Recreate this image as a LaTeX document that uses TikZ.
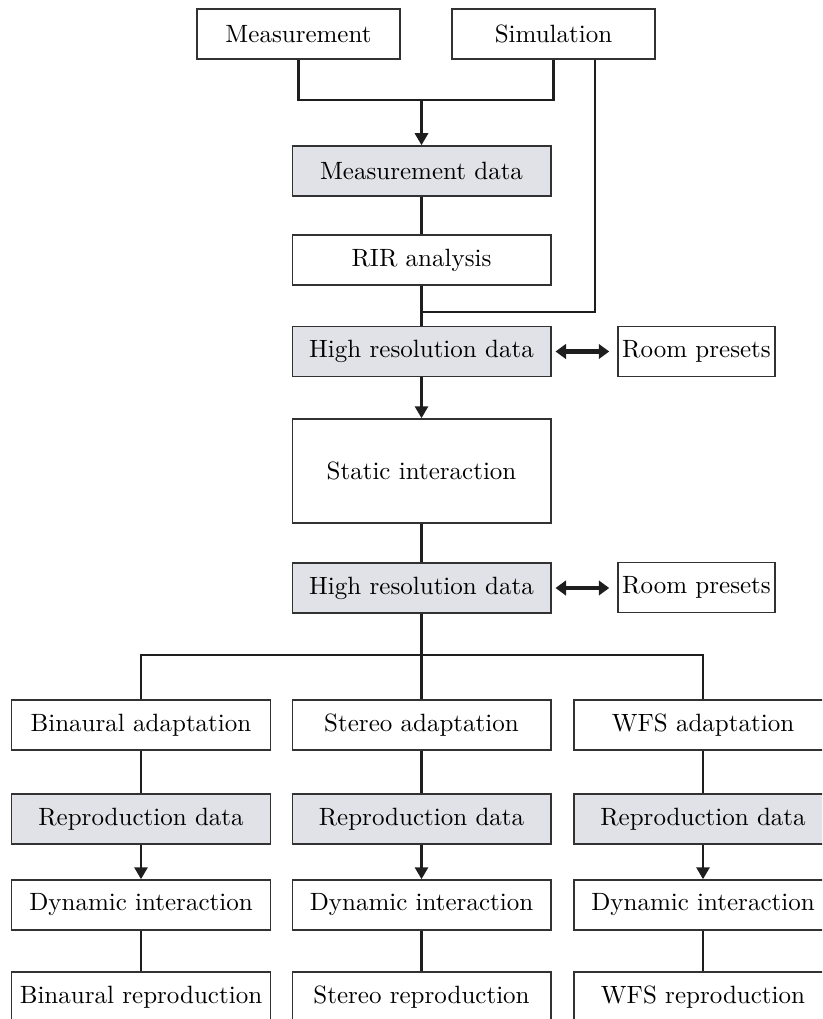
\documentclass[tikz,border=0pt]{standalone}
\usetikzlibrary{arrows.meta}
\definecolor{boxgray}{RGB}{225,226,231}
\definecolor{edge}{RGB}{50,50,50}
\definecolor{wire}{RGB}{30,30,30}
\begin{document}
\begin{tikzpicture}[x=0.4pt,y=-0.4pt,
  box/.style={draw=edge,line width=0.6pt,inner sep=0pt,minimum width=103.4pt,minimum height=20pt,font=\fontsize{10}{12}\selectfont},
  databox/.style={box,fill=boxgray},
  wireline/.style={draw=wire,line width=1.15pt},
  arr/.style={wireline,-{Triangle[length=4.8pt,width=5.2pt]}},
  dbl/.style={draw=wire,line width=1.7pt,{Triangle[length=4.2pt,width=5.8pt]}-{Triangle[length=4.2pt,width=5.8pt]}}]
\useasboundingbox (0,0) rectangle (822,1019);
\clip (0,0) rectangle (822,1019);
% top
\node[box,minimum width=81.2pt] (meas) at (298.5,34) {Measurement};
\node[box,minimum width=81.2pt] (sim) at (553.5,34) {Simulation};
\node[databox] (mdata) at (421.5,171) {Measurement data};
\node[box] (rir) at (421.5,260) {RIR analysis};
\node[databox] (hr1) at (421.5,351.5) {High resolution data};
\node[box,minimum width=62.8pt] (rp1) at (696.5,351.5) {Room presets};
\node[box,minimum height=41.6pt] (static) at (421.5,471) {Static interaction};
\node[databox] (hr2) at (421.5,588) {High resolution data};
\node[box,minimum width=62.8pt] (rp2) at (696.5,587.5) {Room presets};
% columns
\node[box] (ad1) at (141,725) {Binaural adaptation};
\node[box] (ad2) at (421.5,725) {Stereo adaptation};
\node[box] (ad3) at (703,725) {WFS adaptation};
\node[databox] (rd1) at (141,819) {Reproduction data};
\node[databox] (rd2) at (421.5,819) {Reproduction data};
\node[databox] (rd3) at (703,819) {Reproduction data};
\node[box] (dy1) at (141,905) {Dynamic interaction};
\node[box] (dy2) at (421.5,905) {Dynamic interaction};
\node[box] (dy3) at (703,905) {Dynamic interaction};
\node[box] (re1) at (141,997) {Binaural reproduction};
\node[box] (re2) at (421.5,997) {Stereo reproduction};
\node[box] (re3) at (703,997) {WFS reproduction};
% junctions
\coordinate (j1) at (421.5,100);
\coordinate (j2) at (421.5,312);
\coordinate (jb) at (421.5,655);
% connectors
\draw[wireline] (meas.south) |- (j1) -| (sim.south);
\draw[arr] (j1) -- (mdata.north);
\draw[wireline] (mdata) -- (rir);
\draw[wireline] ([xshift=16.6pt]sim.south) |- (j2);
\draw[wireline] (rir.south) -- (hr1.north);
\draw[dbl,shorten <=1.6pt,shorten >=3.2pt] (hr1.east) -- (rp1.west);
\draw[arr] (hr1) -- (static);
\draw[wireline] (static) -- (hr2);
\draw[dbl,shorten <=1.6pt,shorten >=3.2pt] (hr2.east) -- (hr2.east -| rp2.west);
\draw[wireline] (hr2.south) -- (jb);
\draw[wireline] (ad1.north) |- (jb) -| (ad3.north);
\draw[wireline] (jb) -- (ad2.north);
\foreach \i in {1,2,3}{
  \draw[wireline] (ad\i) -- (rd\i);
  \draw[arr] (rd\i) -- (dy\i);
  \draw[wireline] (dy\i) -- (re\i);
}
\end{tikzpicture}
\end{document}
